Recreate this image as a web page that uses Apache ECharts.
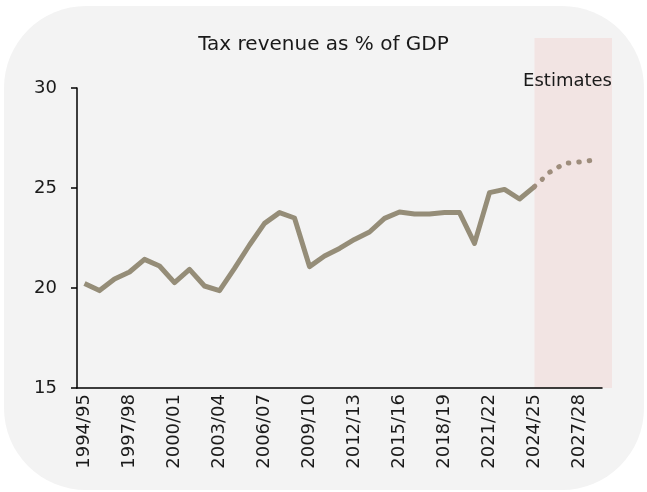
<!DOCTYPE html>
<html>
<head>
<meta charset="utf-8">
<title>Tax revenue as % of GDP</title>
<script src="https://cdn.jsdelivr.net/npm/echarts@6/dist/echarts.min.js"></script>
<style>
    html, body {
        margin: 0;
        padding: 0;
        background: #fff;
    }
    .card {
        position: absolute;
        left: 4px;
        top: 6px;
        width: 640px;
        height: 484px;
        border-radius: 82px;
        background: #f3f3f3;
    }
    #chart {
        position: absolute;
        left: 0;
        top: 0;
        width: 647px;
        height: 492px;
    }
</style>
</head>
<body>
<div class="card"></div>
<div id="chart"></div>
<script>
// financial years on the x axis
var categories = [
    '1994/95', '1995/96', '1996/97', '1997/98', '1998/99', '1999/00', '2000/01',
    '2001/02', '2002/03', '2003/04', '2004/05', '2005/06', '2006/07', '2007/08',
    '2008/09', '2009/10', '2010/11', '2011/12', '2012/13', '2013/14', '2014/15',
    '2015/16', '2016/17', '2017/18', '2018/19', '2019/20', '2020/21', '2021/22',
    '2022/23', '2023/24', '2024/25', '2025/26', '2026/27', '2027/28', '2028/29'
];
// outturn, 1994/95 .. 2024/25
var actual = [
    20.23, 19.87, 20.45, 20.8, 21.43, 21.1, 20.27, 20.93, 20.1, 19.87,
    20.98, 22.15, 23.23, 23.77, 23.5, 21.07, 21.6, 21.98, 22.43, 22.8,
    23.48, 23.8, 23.7, 23.7, 23.77, 23.77, 22.23, 24.77, 24.93, 24.45,
    25.07
];
// estimates, 2024/25 .. 2028/29
var estimateYears = ['2024/25', '2025/26', '2026/27', '2027/28', '2028/29'];
var estimates = [25.07, 25.78, 26.23, 26.3, 26.4];
var yTicks = [15, 30, 5]; // min, max, interval

var estimateData = categories.map(function (c) {
    var i = estimateYears.indexOf(c);
    return i < 0 ? null : estimates[i];
});
// shaded block starts in the middle of the first estimate year
var shadeStart = categories.indexOf(estimateYears[0]) + 0.5;
var shadeEnd = 35.67;

var textColor = '#1a1a1a';
var font = 'DejaVu Sans';

var chart = echarts.init(document.getElementById('chart'));
chart.setOption({
    animation: false,
    title: [{
        text: 'Tax revenue as % of GDP',
        left: 'center',
        top: 30,
        textStyle: {
            fontFamily: font,
            fontSize: 20,
            fontWeight: 'normal',
            color: textColor
        }
    }, {
        text: 'Estimates',
        right: 35,
        top: 72,
        padding: 0,
        textStyle: {
            fontFamily: font,
            fontSize: 18,
            fontWeight: 'normal',
            color: textColor
        }
    }],
    grid: [{
        left: 77,
        right: 45,
        top: 88,
        bottom: 104
    }, {
        left: 77,
        right: 35,
        top: 38,
        bottom: 104
    }],
    xAxis: [{
        type: 'category',
        gridIndex: 0,
        z: 5,
        data: categories,
        boundaryGap: true,
        axisLine: {
            lineStyle: { color: '#000', width: 1.5 }
        },
        axisTick: {
            interval: 2,
            length: 5,
            lineStyle: { color: '#000', width: 1.5 }
        },
        axisLabel: {
            interval: 2,
            rotate: 90,
            margin: 6,
            fontFamily: font,
            fontSize: 18,
            color: textColor
        }
    }, {
        type: 'value',
        gridIndex: 1,
        min: 0,
        max: shadeEnd,
        show: false
    }],
    yAxis: [{
        type: 'value',
        gridIndex: 0,
        z: 5,
        min: yTicks[0],
        max: yTicks[1],
        interval: yTicks[2],
        axisLine: {
            show: true,
            lineStyle: { color: '#000', width: 1.5 }
        },
        axisTick: {
            show: true,
            length: 6,
            lineStyle: { color: '#000', width: 1.5 }
        },
        splitLine: { show: false },
        axisLabel: {
            margin: 20,
            fontFamily: font,
            fontSize: 18,
            color: textColor
        }
    }, {
        type: 'value',
        gridIndex: 1,
        min: 15,
        max: 32.5,
        show: false
    }],
    series: [{
        name: 'shade',
        type: 'line',
        xAxisIndex: 1,
        yAxisIndex: 1,
        z: 1,
        data: [],
        markArea: {
            silent: true,
            itemStyle: { color: '#f2e4e3' },
            data: [[{ xAxis: shadeStart }, { xAxis: shadeEnd }]]
        }
    }, {
        name: 'Tax revenue',
        type: 'line',
        z: 3,
        data: actual,
        showSymbol: false,
        lineStyle: {
            color: '#958d78',
            width: 5,
            join: 'round'
        }
    }, {
        name: 'Estimates',
        type: 'line',
        z: 3,
        data: estimateData,
        showSymbol: false,
        lineStyle: {
            color: '#9e8d7c',
            width: 5,
            type: [0.5, 10],
            cap: 'round'
        }
    }]
});
</script>
</body>
</html>
